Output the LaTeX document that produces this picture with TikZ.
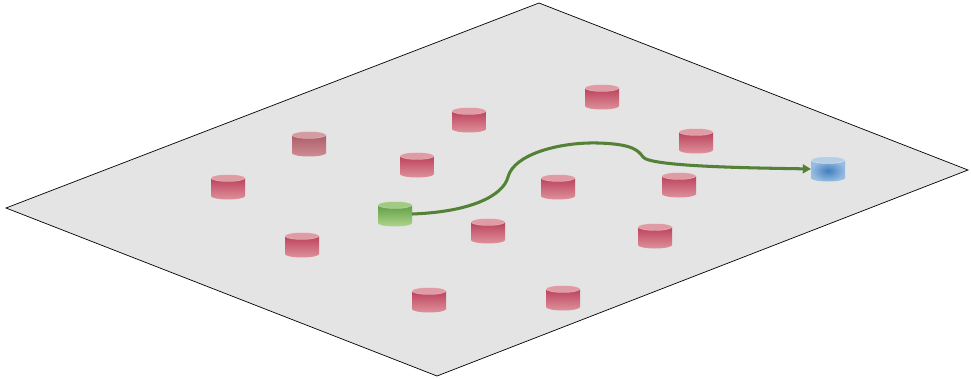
\documentclass[tikz,border=0pt]{standalone}
\usepackage{tikz}
\usetikzlibrary{arrows.meta}
\usepackage{xcolor}
\definecolor{floor}{RGB}{228,228,228}
\definecolor{obsdark}{RGB}{188,66,92}
\definecolor{obslight}{RGB}{222,145,155}
\definecolor{obscap}{RGB}{224,156,165}
\definecolor{mutedark}{RGB}{172,94,104}
\definecolor{mutelight}{RGB}{206,140,146}
\definecolor{mutecap}{RGB}{212,156,160}
\definecolor{startdark}{RGB}{98,158,68}
\definecolor{startlight}{RGB}{172,214,140}
\definecolor{startcap}{RGB}{162,202,132}
\definecolor{goaldark}{RGB}{66,126,190}
\definecolor{goallight}{RGB}{150,188,226}
\definecolor{goalcap}{RGB}{184,206,230}
\definecolor{pathgreen}{RGB}{83,129,53}

\tikzset{
  pics/can/.style n args={3}{code={
    \shade[top color=#1, bottom color=#2] (-17,9) -- (-17,-9)
      arc[start angle=180, end angle=360, x radius=17, y radius=3.5] -- (17,9) -- cycle;
    \fill[#3, draw=white, draw opacity=0.35, line width=0.4pt] (0,9) ellipse[x radius=17, y radius=3.5];
    \coordinate (-east) at (17,0);
    \coordinate (-west) at (-17,0);
  }},
  pics/goalcan/.style={code={
    \shade[inner color=goaldark, outer color=goallight] (-17,9) -- (-17,-9)
      arc[start angle=180, end angle=360, x radius=17, y radius=3.5] -- (17,9) -- cycle;
    \fill[goalcap, draw=white, draw opacity=0.5, line width=0.4pt] (0,9) ellipse[x radius=17, y radius=3.5];
    \coordinate (-east) at (17,0);
    \coordinate (-west) at (-17,0);
  }}
}

\begin{document}
\begin{tikzpicture}[x=0.3mm, y=0.3mm]
    \useasboundingbox (0,0) rectangle (971,378);
    % ground plane
    \draw[fill=floor, line width=0.6pt] (539,375) -- (968,208) -- (437,2) -- (6,170) -- cycle;
    % obstacles
    \foreach \x/\y in {228/191, 469/258, 602/281, 417/213, 558/191, 696/237,
                       679/193, 302/133, 488/147, 655/142, 429/78, 563/80}
        \pic at (\x,\y) {can={obsdark}{obslight}{obscap}};
    \pic at (309,234) {can={mutedark}{mutelight}{mutecap}};
    % start and goal
    \pic (start) at (395,164) {can={startdark}{startlight}{startcap}};
    \pic (goal) at (828,209) {goalcan};
    % planned route
    \draw[pathgreen, line width=2.6pt, -{Triangle[length=7pt, width=7.5pt]}]
        (start-east) .. controls (470,166) and (503,182) .. (508,201)
        .. controls (514,224) and (560,236) .. (598,235)
        .. controls (632,234) and (638,228) .. (643,221)
        .. controls (650,211) and (760,210) .. (goal-west);
\end{tikzpicture}
\end{document}
